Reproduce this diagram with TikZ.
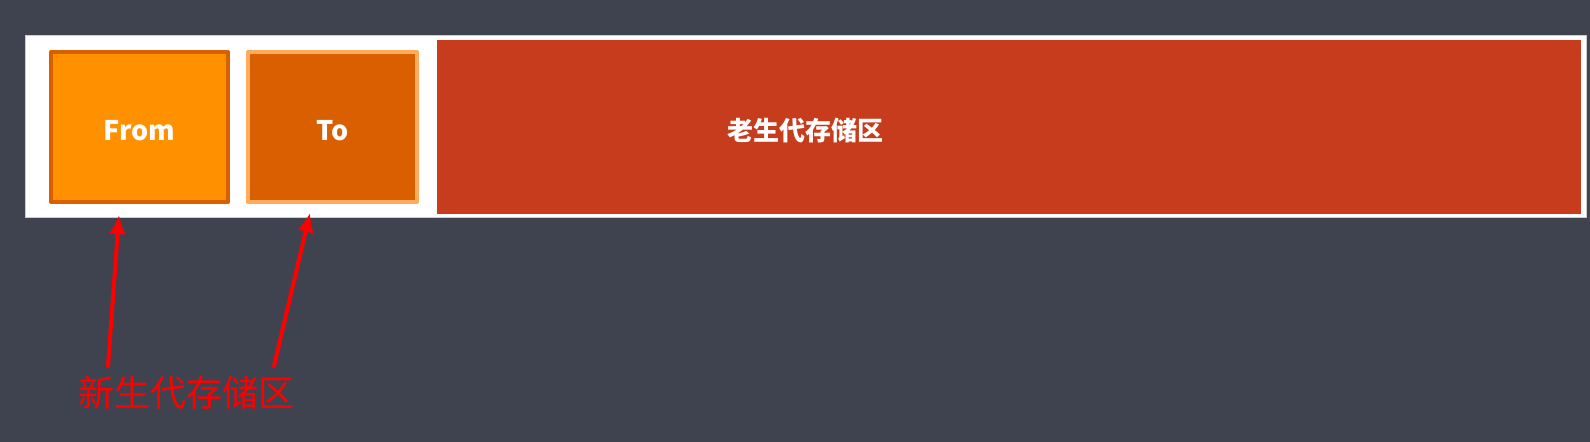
\documentclass[tikz,border=0pt]{standalone}
\usepackage{fontspec}
\newfontfamily\cjk{Noto Sans CJK SC}
\usetikzlibrary{arrows,arrows.meta}
\definecolor{slate}{RGB}{63,67,80}
\definecolor{fromfill}{RGB}{255,145,0}
\definecolor{fromline}{RGB}{217,96,0}
\definecolor{tofill}{RGB}{217,95,0}
\definecolor{toline}{RGB}{255,171,94}
\definecolor{oldfill}{RGB}{198,60,28}
\definecolor{arrowred}{RGB}{255,0,0}

\begin{document}
\begin{tikzpicture}[line cap=round,line join=round,>={Latex[length=9.5pt,width=8.5pt]},x=0.5pt,y=-0.5pt,
  regionbox/.style={rectangle,inner sep=0pt,minimum height=75pt,text height=13.5pt,text depth=0pt,text=white,font=\cjk\bfseries\fontsize{13.5}{16}\selectfont},
  pointer/.style={->,line width=2pt,color=arrowred}]
\useasboundingbox (0,0) rectangle (1590,442);
\fill[color=slate] (0,0) rectangle (1590,442);
%\draw[help lines] (0,0) grid (1590,442);
\draw [fill=white,draw=gray!40,line width=0.5pt] (25,36) rectangle (1586,218);
% young generation
\node[regionbox,fill=fromfill,draw=fromline,line width=2pt,minimum width=88.5pt] (from) at (139.5,127) {From};
\node[regionbox,fill=tofill,draw=toline,line width=2pt,minimum width=84.5pt] (to) at (332.5,127) {To};
% old generation
\node[regionbox,fill=oldfill,minimum width=572pt,minimum height=87pt] (old) at (1009,127) {};
\node[text=white,font=\cjk\bfseries\fontsize{13}{16}\selectfont] (oldlabel) at (805,131) {老生代存储区};
% label below
\node[text=arrowred,font=\cjk\fontsize{18}{20}\selectfont] (young) at (186,393) {新生代存储区};
\coordinate (fromtail) at (108,366);
\coordinate (totail) at (274,366);
\coordinate (fromtip) at (119,215);
\coordinate (totip) at (310,213);
\draw[pointer] (fromtail) -- (fromtip);
\draw[pointer] (totail) -- (totip);
\end{tikzpicture}
\end{document}
